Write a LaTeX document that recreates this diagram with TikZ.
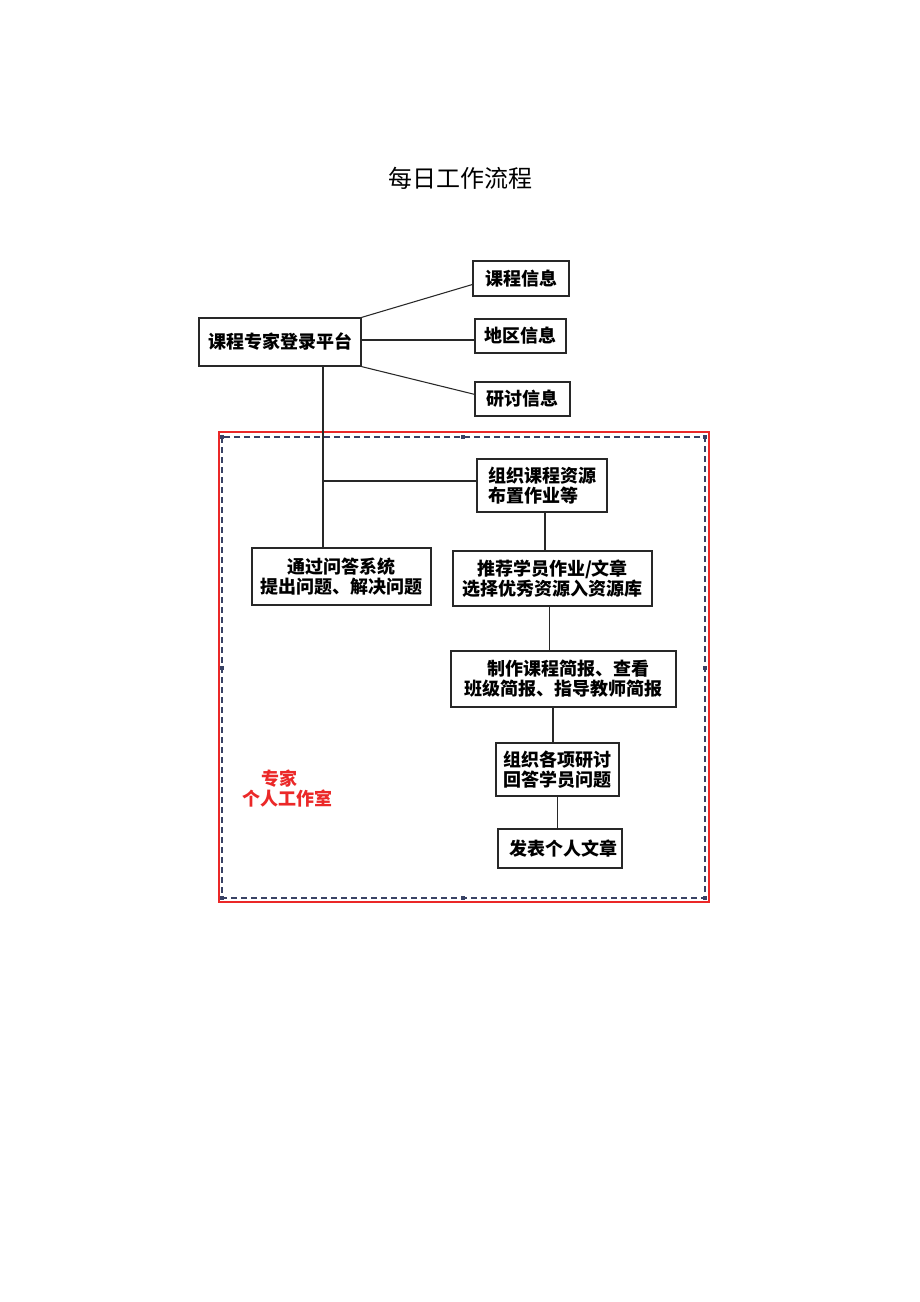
\documentclass[tikz,border=0pt]{standalone}
\usepackage{fontspec}
\setmainfont{Noto Sans CJK SC}
\usetikzlibrary{calc}
\definecolor{boxline}{RGB}{40,40,40}
\definecolor{dashblue}{RGB}{55,65,100}
\definecolor{redline}{RGB}{235,40,40}
\begin{document}
\begin{tikzpicture}[x=0.75pt,y=-0.75pt,
  box/.style={draw=boxline,line width=0.9pt,inner sep=0pt,align=center,
    font=\bfseries\fontsize{13.5}{15}\selectfont},
  conn/.style={draw=boxline,line width=0.8pt},
  handle/.style={fill=dashblue,draw=none,minimum size=3pt,inner sep=0pt}]
\fill[white] (0,0) rectangle (920,1302);
\useasboundingbox (0,0) rectangle (920,1302);

\node[font=\fontsize{18}{20}\selectfont] (title) at (460,178) {每日工作流程};

% outer frames
\draw[redline,line width=1.1pt] (219,432) rectangle (709,902);
\draw[dashblue,line width=0.8pt,dash pattern=on 4.5pt off 3pt] (222,437) rectangle (705,898);
\foreach \hx/\hy [count=\i] in {222/437,463/437,705/437,222/668,705/668,222/898,463/898,705/898}
  \node[handle] (h\i) at (\hx,\hy) {};

% nodes
\node[box,minimum width=162*0.75pt,minimum height=48*0.75pt] (p) at (280,342) {课程专家登录平台};
\node[box,minimum width=96*0.75pt,minimum height=35*0.75pt] (kc) at (521,278.5) {课程信息};
\node[box,minimum width=91*0.75pt,minimum height=34*0.75pt] (dq) at (520.5,336) {地区信息};
\node[box,minimum width=95*0.75pt,minimum height=34*0.75pt] (yt) at (522.5,399) {研讨信息};

\node[box,minimum width=130*0.75pt,minimum height=53*0.75pt,align=left] (org) at (542,485.5) {组织课程资源\\布置作业等\hspace{1.4em}};
\node[box,minimum width=179*0.75pt,minimum height=57*0.75pt] (qa) at (341.5,576.5) {通过问答系统\\提出问题、解决问题};
\node[box,minimum width=199*0.75pt,minimum height=55*0.75pt] (rec) at (552.5,578.5) {推荐学员作业/文章\\选择优秀资源入资源库};
\node[box,minimum width=225*0.75pt,minimum height=56*0.75pt] (brief) at (563.5,679) {\hspace{0.6em}制作课程简报、查看\\班级简报、指导教师简报};
\node[box,minimum width=123*0.75pt,minimum height=53*0.75pt] (disc) at (557.5,769.5) {组织各项研讨\\回答学员问题};
\node[box,minimum width=124*0.75pt,minimum height=39*0.75pt] (art) at (560,848.5) {\hspace{0.4em}发表个人文章};

\node[text=redline,align=center,font=\bfseries\fontsize{13.5}{15}\selectfont] (lab) at (287,789) {\hspace{-0.83em}专家\\个人工作室};

% connectors
\draw[conn] (p.north east) -- ([yshift=-4.5pt]kc.west);
\draw[conn] ([yshift=1.5pt]p.east) -- ([yshift=-3pt]dq.west);
\draw[conn] (p.south east) -- ([yshift=3.5pt]yt.west);
\coordinate (j) at (323,481);
\draw[conn] (j |- p.south) -- (j |- qa.north);
\draw[conn] (j) -- (j -| org.west);
\draw[conn] ([xshift=2.25pt]org.south) -- ([xshift=2.25pt]org.south |- rec.north);
\draw[conn] ([xshift=-2.6pt]rec.south) -- ([xshift=-2.6pt]rec.south |- brief.north);
\draw[conn] ([xshift=-7.9pt]brief.south) -- ([xshift=-7.9pt]brief.south |- disc.north);
\draw[conn] (disc.south) -- (disc.south |- art.north);
\end{tikzpicture}
\end{document}
